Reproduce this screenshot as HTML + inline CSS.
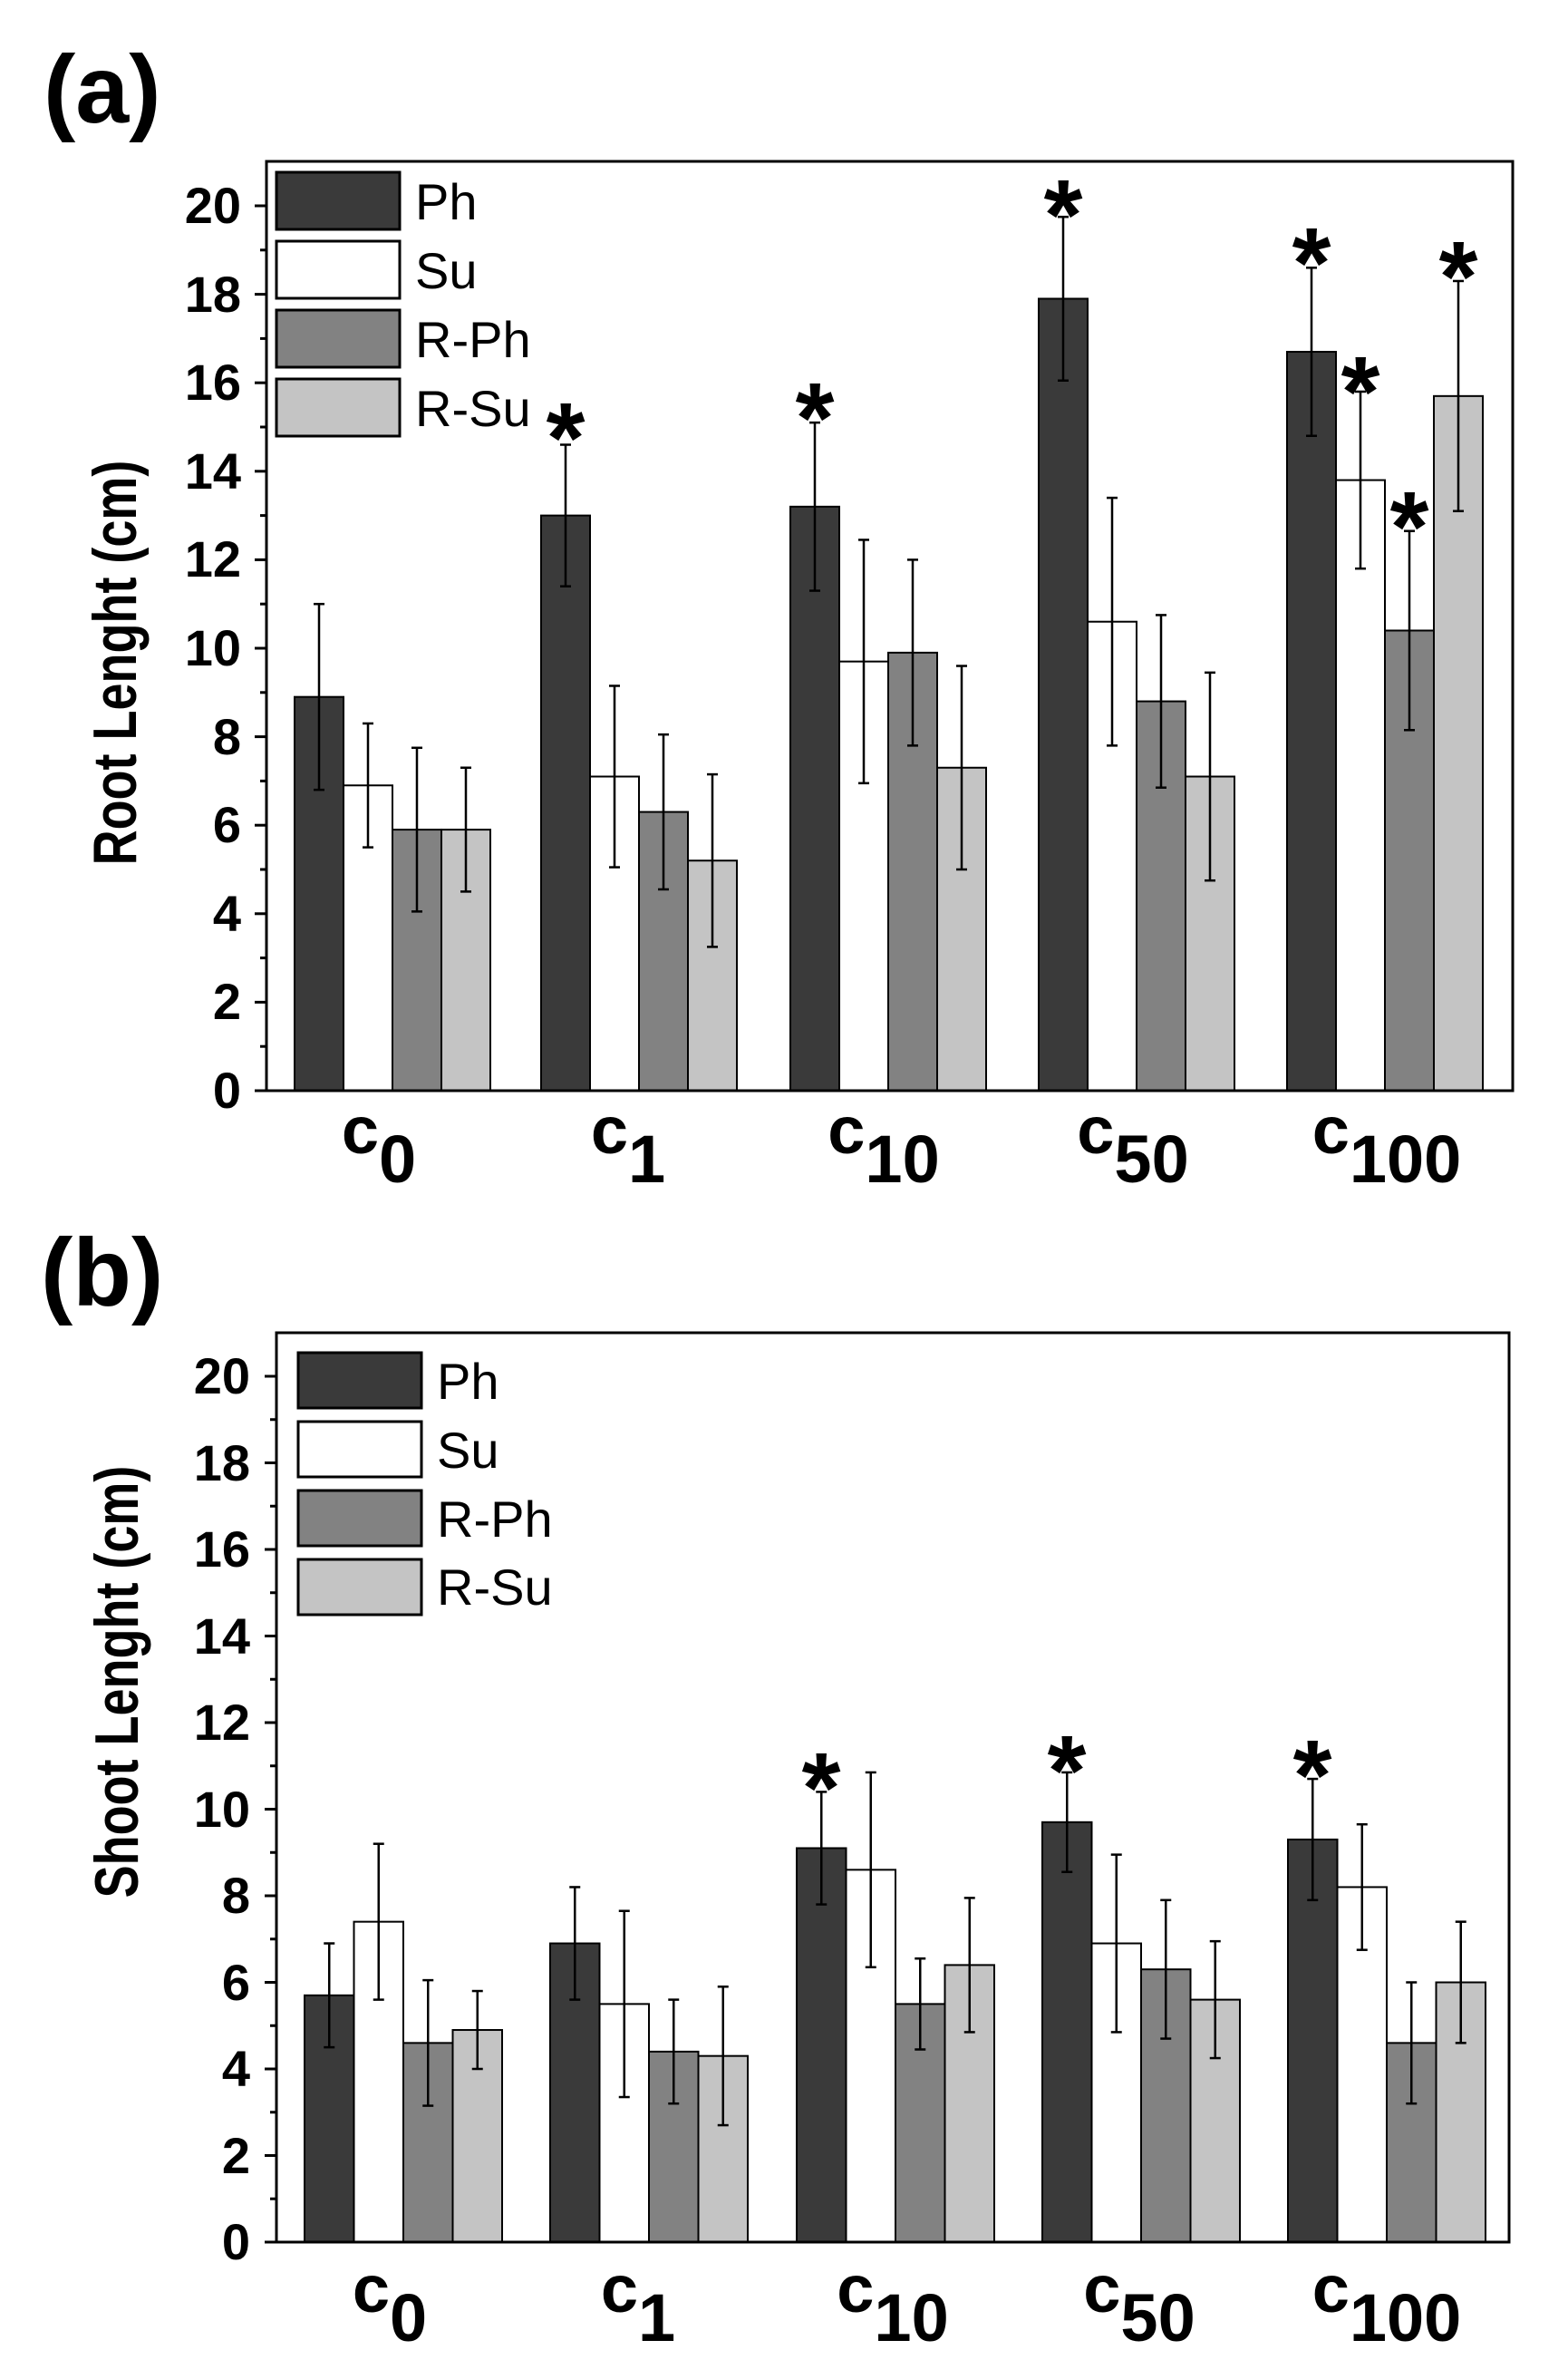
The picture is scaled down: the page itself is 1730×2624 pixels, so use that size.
<!DOCTYPE html>
<html><head><meta charset="utf-8"><style>
html,body{margin:0;padding:0;background:#fff}
svg{display:block}
text{font-family:"Liberation Sans",Arial,sans-serif}
.tk{font-weight:bold;font-size:56px;text-anchor:end}
.lg{font-size:56px}
.st{font-weight:bold;font-size:110px;text-anchor:middle}
.xl{font-weight:bold;font-size:74px;text-anchor:middle}
.yt{font-weight:bold;font-size:54px;text-anchor:middle}
.pl{font-weight:bold;font-size:106px}
</style></head><body>
<svg id="s" width="1730" height="2624" viewBox="0 0 1730 2624" xmlns="http://www.w3.org/2000/svg">
<g id="shapes"></g>
<text class="pl" x="48" y="135">(a)</text>
<text class="pl" x="45" y="1440">(b)</text>

<text class="tk" x="266" y="1222">0</text>
<text class="tk" x="266" y="1124">2</text>
<text class="tk" x="266" y="1027">4</text>
<text class="tk" x="266" y="929">6</text>
<text class="tk" x="266" y="832">8</text>
<text class="tk" x="266" y="734">10</text>
<text class="tk" x="266" y="636">12</text>
<text class="tk" x="266" y="539">14</text>
<text class="tk" x="266" y="441">16</text>
<text class="tk" x="266" y="344">18</text>
<text class="tk" x="266" y="246">20</text>
<text class="yt" transform="translate(150,731) rotate(-90) scale(1,1.25)">Root Lenght (cm)</text>

<text class="tk" x="276" y="2492">0</text>
<text class="tk" x="276" y="2397">2</text>
<text class="tk" x="276" y="2301">4</text>
<text class="tk" x="276" y="2206">6</text>
<text class="tk" x="276" y="2110">8</text>
<text class="tk" x="276" y="2015">10</text>
<text class="tk" x="276" y="1919">12</text>
<text class="tk" x="276" y="1824">14</text>
<text class="tk" x="276" y="1728">16</text>
<text class="tk" x="276" y="1633">18</text>
<text class="tk" x="276" y="1537">20</text>
<text class="yt" transform="translate(152,1855) rotate(-90) scale(1,1.25)">Shoot Lenght (cm)</text>

<text class="lg" x="458" y="242">Ph</text>
<text class="lg" x="458" y="318">Su</text>
<text class="lg" x="458" y="394">R-Ph</text>
<text class="lg" x="458" y="470">R-Su</text>
<text class="lg" x="482" y="1543">Ph</text>
<text class="lg" x="482" y="1619">Su</text>
<text class="lg" x="482" y="1695">R-Ph</text>
<text class="lg" x="482" y="1770">R-Su</text>

<text class="st" x="624" y="521">*</text>
<text class="st" x="899" y="499">*</text>
<text class="st" x="1173" y="275">*</text>
<text class="st" x="1447" y="328">*</text>
<text class="st" x="1501" y="470">*</text>
<text class="st" x="1555" y="619">*</text>
<text class="st" x="1609" y="343">*</text>
<text class="st" x="906" y="2010">*</text>
<text class="st" x="1177" y="1991">*</text>
<text class="st" x="1448" y="1996">*</text>

<text class="xl" x="418" y="1272">c<tspan dy="32">0</tspan></text>
<text class="xl" x="693" y="1272">c<tspan dy="32">1</tspan></text>
<text class="xl" x="975" y="1272">c<tspan dy="32">10</tspan></text>
<text class="xl" x="1250" y="1272">c<tspan dy="32">50</tspan></text>
<text class="xl" x="1530" y="1272">c<tspan dy="32">100</tspan></text>
<text class="xl" x="430" y="2550">c<tspan dy="32">0</tspan></text>
<text class="xl" x="704" y="2550">c<tspan dy="32">1</tspan></text>
<text class="xl" x="985" y="2550">c<tspan dy="32">10</tspan></text>
<text class="xl" x="1257" y="2550">c<tspan dy="32">50</tspan></text>
<text class="xl" x="1530" y="2550">c<tspan dy="32">100</tspan></text>
</svg>
<script>
(function(){
var NS="http://www.w3.org/2000/svg",g=document.getElementById("shapes");
function el(t,a){var e=document.createElementNS(NS,t);for(var k in a)e.setAttribute(k,a[k]);g.appendChild(e);return e;}
var cols=["#3a3a3a","#ffffff","#828282","#c4c4c4"];
var P=[{l:294,r:1669,t:178,y0:1203,u:48.8,st:[325,597,872,1146,1420],bw:54,
 v:[[8.9,13,13.2,17.9,16.7],[6.9,7.1,9.7,10.6,13.8],[5.9,6.3,9.9,8.8,10.4],[5.9,5.2,7.3,7.1,15.7]],
 e:[[2.1,1.6,1.9,1.85,1.9],[1.4,2.05,2.75,2.8,2],[1.85,1.75,2.1,1.95,2.25],[1.4,1.95,2.3,2.35,2.6]],
 lx:305,lw:136,ly:[190,266,342,418],lh:63},
 {l:305,r:1665,t:1470,y0:2473,u:47.75,st:[336,607,879,1150,1421],bw:54.5,
 v:[[5.7,6.9,9.1,9.7,9.3],[7.4,5.5,8.6,6.9,8.2],[4.6,4.4,5.5,6.3,4.6],[4.9,4.3,6.4,5.6,6.0]],
 e:[[1.2,1.3,1.3,1.15,1.4],[1.8,2.15,2.25,2.05,1.45],[1.45,1.2,1.05,1.6,1.4],[0.9,1.6,1.55,1.35,1.4]],
 lx:329,lw:136,ly:[1492,1568,1644,1720],lh:61}];
P.forEach(function(p){
 for(var s=0;s<4;s++)for(var i=0;i<5;i++){
  var x=p.st[i]+s*p.bw,v=p.v[s][i],y=p.y0-v*p.u;
  el("rect",{x:x,y:y,width:p.bw,height:v*p.u,fill:cols[s],stroke:"#000","stroke-width":2});
 }
 for(var s=0;s<4;s++)for(var i=0;i<5;i++){
  var cx=p.st[i]+s*p.bw+p.bw/2,v=p.v[s][i],er=p.e[s][i];
  var y1=p.y0-(v+er)*p.u,y2=p.y0-(v-er)*p.u;
  el("line",{x1:cx,x2:cx,y1:y1,y2:y2,stroke:"#000","stroke-width":2.5});
  el("line",{x1:cx-6,x2:cx+6,y1:y1,y2:y1,stroke:"#000","stroke-width":2.5});
  el("line",{x1:cx-6,x2:cx+6,y1:y2,y2:y2,stroke:"#000","stroke-width":2.5});
 }
 el("rect",{x:p.l,y:p.t,width:p.r-p.l,height:p.y0-p.t,fill:"none",stroke:"#000","stroke-width":3});
 for(var k=0;k<=20;k++){var y=p.y0-k*p.u;var L=(k%2==0)?13:7;
  if(y<p.t)break;el("line",{x1:p.l-L,x2:p.l,y1:y,y2:y,stroke:"#000","stroke-width":3});}
 for(var s=0;s<4;s++)el("rect",{x:p.lx,y:p.ly[s],width:p.lw,height:p.lh,fill:cols[s],stroke:"#000","stroke-width":3});
});
})();
</script>
</body></html>
